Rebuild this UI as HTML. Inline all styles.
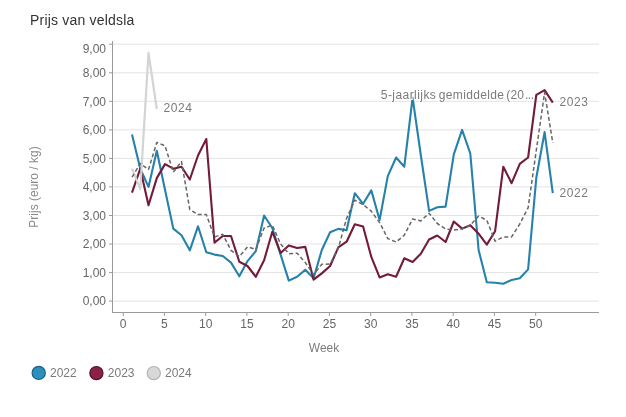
<!DOCTYPE html>
<html><head><meta charset="utf-8">
<style>
html,body{margin:0;padding:0;background:#fff;}
body{width:626px;height:417px;overflow:hidden;}
svg{display:block;font-family:"Liberation Sans",sans-serif;will-change:transform;}
</style></head><body>
<svg width="626" height="417" viewBox="0 0 626 417">
<rect width="626" height="417" fill="#fff"/>
<text x="30" y="24.7" font-size="14" fill="#333" letter-spacing="0.2">Prijs van veldsla</text>
<g><line x1="112" y1="301.1" x2="599" y2="301.1" stroke="#e3e3e3" stroke-width="1"/><line x1="109" y1="301.1" x2="112" y2="301.1" stroke="#9a9a9a" stroke-width="1"/><line x1="112" y1="272.6" x2="599" y2="272.6" stroke="#e3e3e3" stroke-width="1"/><line x1="109" y1="272.6" x2="112" y2="272.6" stroke="#9a9a9a" stroke-width="1"/><line x1="112" y1="244.0" x2="599" y2="244.0" stroke="#e3e3e3" stroke-width="1"/><line x1="109" y1="244.0" x2="112" y2="244.0" stroke="#9a9a9a" stroke-width="1"/><line x1="112" y1="215.5" x2="599" y2="215.5" stroke="#e3e3e3" stroke-width="1"/><line x1="109" y1="215.5" x2="112" y2="215.5" stroke="#9a9a9a" stroke-width="1"/><line x1="112" y1="186.9" x2="599" y2="186.9" stroke="#e3e3e3" stroke-width="1"/><line x1="109" y1="186.9" x2="112" y2="186.9" stroke="#9a9a9a" stroke-width="1"/><line x1="112" y1="158.4" x2="599" y2="158.4" stroke="#e3e3e3" stroke-width="1"/><line x1="109" y1="158.4" x2="112" y2="158.4" stroke="#9a9a9a" stroke-width="1"/><line x1="112" y1="129.9" x2="599" y2="129.9" stroke="#e3e3e3" stroke-width="1"/><line x1="109" y1="129.9" x2="112" y2="129.9" stroke="#9a9a9a" stroke-width="1"/><line x1="112" y1="101.3" x2="599" y2="101.3" stroke="#e3e3e3" stroke-width="1"/><line x1="109" y1="101.3" x2="112" y2="101.3" stroke="#9a9a9a" stroke-width="1"/><line x1="112" y1="72.8" x2="599" y2="72.8" stroke="#e3e3e3" stroke-width="1"/><line x1="109" y1="72.8" x2="112" y2="72.8" stroke="#9a9a9a" stroke-width="1"/><line x1="112" y1="44.2" x2="599" y2="44.2" stroke="#e3e3e3" stroke-width="1"/><line x1="109" y1="44.2" x2="112" y2="44.2" stroke="#9a9a9a" stroke-width="1"/></g>
<line x1="112.5" y1="41" x2="112.5" y2="312.5" stroke="#9a9a9a" stroke-width="1"/>
<line x1="112" y1="312.5" x2="599" y2="312.5" stroke="#9a9a9a" stroke-width="1"/>
<g font-size="12" fill="#666666"><text x="106" y="305.4" text-anchor="end">0,00</text><text x="106" y="276.9" text-anchor="end">1,00</text><text x="106" y="248.3" text-anchor="end">2,00</text><text x="106" y="219.8" text-anchor="end">3,00</text><text x="106" y="191.2" text-anchor="end">4,00</text><text x="106" y="162.7" text-anchor="end">5,00</text><text x="106" y="134.2" text-anchor="end">6,00</text><text x="106" y="105.6" text-anchor="end">7,00</text><text x="106" y="77.1" text-anchor="end">8,00</text><text x="106" y="53.1" text-anchor="end">9,00</text><line x1="123.2" y1="312" x2="123.2" y2="316" stroke="#9a9a9a" stroke-width="1"/><text x="123.2" y="327.5" text-anchor="middle">0</text><line x1="164.4" y1="312" x2="164.4" y2="316" stroke="#9a9a9a" stroke-width="1"/><text x="164.4" y="327.5" text-anchor="middle">5</text><line x1="205.7" y1="312" x2="205.7" y2="316" stroke="#9a9a9a" stroke-width="1"/><text x="205.7" y="327.5" text-anchor="middle">10</text><line x1="246.9" y1="312" x2="246.9" y2="316" stroke="#9a9a9a" stroke-width="1"/><text x="246.9" y="327.5" text-anchor="middle">15</text><line x1="288.2" y1="312" x2="288.2" y2="316" stroke="#9a9a9a" stroke-width="1"/><text x="288.2" y="327.5" text-anchor="middle">20</text><line x1="329.4" y1="312" x2="329.4" y2="316" stroke="#9a9a9a" stroke-width="1"/><text x="329.4" y="327.5" text-anchor="middle">25</text><line x1="370.7" y1="312" x2="370.7" y2="316" stroke="#9a9a9a" stroke-width="1"/><text x="370.7" y="327.5" text-anchor="middle">30</text><line x1="411.9" y1="312" x2="411.9" y2="316" stroke="#9a9a9a" stroke-width="1"/><text x="411.9" y="327.5" text-anchor="middle">35</text><line x1="453.2" y1="312" x2="453.2" y2="316" stroke="#9a9a9a" stroke-width="1"/><text x="453.2" y="327.5" text-anchor="middle">40</text><line x1="494.4" y1="312" x2="494.4" y2="316" stroke="#9a9a9a" stroke-width="1"/><text x="494.4" y="327.5" text-anchor="middle">45</text><line x1="535.7" y1="312" x2="535.7" y2="316" stroke="#9a9a9a" stroke-width="1"/><text x="535.7" y="327.5" text-anchor="middle">50</text></g>
<text transform="translate(37.7,187) rotate(-90)" text-anchor="middle" font-size="12" fill="#8a8a8a">Prijs (euro / kg)</text>
<text x="324" y="351.5" text-anchor="middle" font-size="12" fill="#7c7c7c">Week</text>
<g fill="none" stroke-linejoin="round" stroke-linecap="butt">
<polyline points="132.0,134.4 140.3,168.7 148.5,186.9 156.8,150.7 165.0,189.8 173.3,228.6 181.5,235.2 189.8,250.3 198.0,226.3 206.3,252.3 214.5,254.6 222.8,256.0 231.0,262.6 239.3,276.3 247.5,261.1 255.8,251.2 264.1,215.5 272.3,228.0 280.6,254.6 288.8,280.6 297.1,276.8 305.3,269.7 313.6,278.3 321.8,250.0 330.1,232.3 338.3,228.9 346.6,230.3 354.8,193.2 363.1,203.8 371.3,190.4 379.6,220.0 387.8,176.1 396.1,157.5 404.3,166.7 412.6,97.6 420.8,155.0 429.1,210.9 437.3,207.2 445.6,206.6 453.8,154.4 462.1,129.9 470.3,153.5 478.6,250.0 486.8,282.3 495.1,282.8 503.3,283.7 511.6,280.0 519.8,278.3 528.1,269.4 536.3,177.8 544.6,132.1 552.8,193.2" stroke="#2682ab" stroke-width="2.1"/>
<polyline points="132.0,192.6 140.3,168.7 148.5,205.2 156.8,178.1 165.0,164.1 173.3,168.7 181.5,166.7 189.8,179.5 198.0,155.5 206.3,139.0 214.5,242.6 222.8,236.0 231.0,236.0 239.3,261.7 247.5,266.0 255.8,276.8 264.1,260.3 272.3,231.7 280.6,252.9 288.8,245.4 297.1,248.0 305.3,246.9 313.6,279.7 321.8,273.4 330.1,266.0 338.3,247.4 346.6,241.7 354.8,224.3 363.1,226.6 371.3,256.9 379.6,277.4 387.8,274.3 396.1,276.8 404.3,258.3 412.6,262.0 420.8,253.7 429.1,239.5 437.3,235.5 445.6,242.0 453.8,221.5 462.1,228.6 470.3,225.2 478.6,233.7 486.8,244.6 495.1,231.2 503.3,166.7 511.6,183.2 519.8,163.8 528.1,157.5 536.3,94.8 544.6,90.2 552.8,102.7" stroke="#731b37" stroke-width="2.1"/>
<polyline points="132.0,168.7 140.3,188.9 148.5,52.8 156.8,109.0" stroke="#d4d4d4" stroke-width="2.2"/>
<polyline points="132.0,177.2 140.3,163.5 148.5,169.5 156.8,142.4 165.0,145.8 173.3,172.1 181.5,161.5 189.8,209.5 198.0,214.6 206.3,214.6 214.5,236.9 222.8,234.3 231.0,250.3 239.3,256.6 247.5,246.9 255.8,249.4 264.1,228.0 272.3,225.2 280.6,244.0 288.8,253.7 297.1,253.2 305.3,262.6 313.6,274.6 321.8,264.3 330.1,264.0 338.3,248.3 346.6,218.3 354.8,200.1 363.1,204.6 371.3,211.2 379.6,222.6 387.8,238.6 396.1,242.0 404.3,235.2 412.6,218.9 420.8,220.9 429.1,213.2 437.3,223.5 445.6,228.9 453.8,230.0 462.1,228.9 470.3,225.2 478.6,216.1 486.8,220.3 495.1,241.2 503.3,236.9 511.6,236.9 519.8,224.0 528.1,207.8 536.3,150.4 544.6,92.5 552.8,143.0" stroke="#666666" stroke-width="1.5" stroke-dasharray="4,2.5"/>
</g>
<g font-size="12" fill="#7a7a7a" stroke="#fff" stroke-width="2" paint-order="stroke" letter-spacing="0.1">
<text x="163.5" y="112" letter-spacing="0.6">2024</text>
<text x="559.5" y="106" letter-spacing="0.6">2023</text>
<text x="559.5" y="197" letter-spacing="0.6">2022</text>
<text x="380.8" y="98.8" letter-spacing="0.44">5-jaarlijks</text>
<text x="438.8" y="98.8" letter-spacing="0.33">gemiddelde</text>
<text x="506.2" y="98.8" letter-spacing="0.25">(20</text>
<text x="525" y="98.8" letter-spacing="-0.5">...</text>
</g>
<g font-size="12" fill="#7a7a7a">
<circle cx="38.7" cy="372.9" r="6.6" fill="#2c8fbd" stroke="#1c6283" stroke-width="1.2"/>
<text x="50" y="377">2022</text>
<circle cx="96.4" cy="373.1" r="6.6" fill="#8a2343" stroke="#5a1128" stroke-width="1.2"/>
<text x="107.8" y="377">2023</text>
<circle cx="153.8" cy="373.1" r="6.6" fill="#d8d8d8" stroke="#b4b4b4" stroke-width="1.2"/>
<text x="165" y="377">2024</text>
</g>
</svg>
</body></html>
